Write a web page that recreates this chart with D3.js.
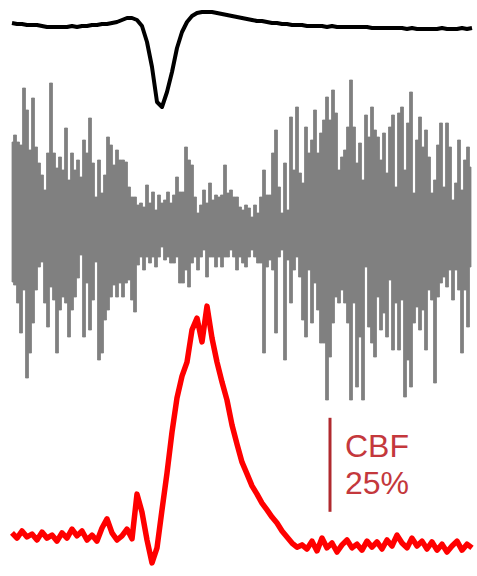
<!DOCTYPE html>
<html>
<head>
<meta charset="utf-8">
<script src="https://cdn.jsdelivr.net/npm/d3@7"></script>
<style>
  body { margin: 0; background: #fff; }
</style>
</head>
<body>
<script>
(function(){
   var width = 477;
   var height = 576;

   // recording length (s)
   var duration = 92;

   // top trace: blood pressure (a.u., relative to baseline), one sample per second
   var bpStep = 1;
   var bp = [
      2,1,1,0,0,0,-1,-2,-2,-2,
      -2,-2,-1,-2,-1,-1,0,0,1,1,
      2,3,5,7,7,5,-1,-17,-42,-77,
      -82,-67,-47,-23,-7,3,9,12,13,13,
      13,12,11,10,9,8,7,6,5,4,
      4,3,2,2,1,1,0,0,0,-1,
      -1,-1,-1,-2,-1,-2,-2,-2,-2,-2,
      -2,-2,-3,-3,-3,-3,-3,-3,-3,-4,
      -3,-4,-4,-4,-4,-4,-3,-4,-4,-4,
      -3,-4,-3
   ];

   // middle trace: EMG, max / min per bin (uV), bin = 0.6 s
   var emgStep = 0.6;
   var emgHi = [
      93,100,93,90,147,125,85,137,88,72,
      60,45,82,152,82,67,78,65,107,55,
      82,65,75,58,95,82,117,72,38,75,
      42,60,98,90,70,85,75,75,73,48,
      38,38,30,32,28,50,32,43,25,40,
      32,35,43,32,40,58,43,43,88,75,
      70,38,22,30,45,32,52,35,40,38,
      40,70,42,45,38,38,28,25,30,27,
      18,30,22,38,65,40,40,82,105,48,
      22,72,25,118,65,128,62,52,108,82,
      95,125,82,102,115,138,115,145,122,65,
      78,85,108,155,108,72,92,55,120,98,
      128,105,98,75,102,62,108,120,48,122,
      128,65,112,143,42,95,118,88,105,78,
      42,55,90,112,48,112,88,35,52,95,
      45,75,88,68
   ];
   var emgLo = [
      -47,-50,-68,-98,-55,-143,-118,-88,-55,-32,
      -27,-68,-92,-52,-65,-118,-75,-62,-68,-102,
      -75,-62,-43,-20,-102,-48,-95,-65,-27,-125,
      -118,-85,-75,-62,-50,-62,-48,-62,-48,-45,
      -65,-77,-30,-22,-35,-22,-28,-22,-32,-22,
      -12,-25,-22,-28,-28,-22,-48,-48,-35,-52,
      -28,-22,-35,-22,-15,-42,-22,-22,-32,-22,
      -32,-22,-22,-15,-22,-35,-22,-28,-32,-22,
      -15,-22,-28,-28,-118,-32,-25,-35,-98,-22,
      -15,-125,-25,-68,-35,-22,-42,-85,-102,-35,
      -88,-48,-75,-108,-108,-165,-122,-88,-62,-68,
      -55,-68,-88,-165,-68,-152,-102,-165,-32,-92,
      -108,-122,-62,-95,-78,-102,-45,-115,-68,-115,
      -65,-162,-125,-152,-88,-72,-95,-75,-115,-55,
      -65,-148,-62,-48,-42,-52,-35,-65,-35,-55,
      -118,-55,-92,-32
   ];

   // bottom trace: CBF change (%), one sample per second
   var cbfStep = 1;
   var cbf = [
      1.9,0.5,2.4,0.8,1.6,0,2.1,0.5,1.3,-0.3,
      1.9,0.5,2.9,1.1,2.4,0,1.3,-0.3,3.2,5.6,
      1.9,0,1.1,2.9,0.3,12.2,7.4,0,-6.1,-2.1,
      8.0,17.8,28.7,37.8,43.6,47.3,55.9,59.0,52.7,62.2,
      53.7,47.3,42.0,37.2,30.6,25.5,20.7,17.6,14.4,12.2,
      9.8,8.0,6.1,4.5,2.4,0.8,-0.8,-1.9,-1.3,-2.4,
      -0.3,-2.9,0.5,-2.1,-0.8,-3.2,-1.3,0,-2.1,-1.1,
      -2.7,-0.3,-1.9,-0.5,-2.4,0,-1.6,1.3,-0.8,-2.1,
      0.5,-1.6,-0.3,-2.4,-0.5,-2.7,-1.1,-3.2,-1.6,-0.3,
      -2.7,-1.1,-2.1
   ];

   // scale bar
   var barTime = 63.6;
   var barFrom = 7.5;
   var barSize = 25;
   var barLabel = ["CBF", "25%"];

   var svg = d3.select("body").append("svg")
      .attr("width", width)
      .attr("height", height)
      .style("display", "block");

   svg.append("rect").attr("width", width).attr("height", height).attr("fill", "#fff");

   var x = d3.scaleLinear().domain([0, duration]).range([12, 472]);
   var yBp = d3.scaleLinear().domain([-100, 20]).range([125, 5]);
   var yEmg = d3.scaleLinear().domain([-200, 200]).range([435, 35]);
   var yCbf = d3.scaleLinear().domain([-10, 70]).range([577.6, 276.8]);

   // EMG: filled step band between bin max and bin min
   let emgArea = d3.area()
      .x((d, i) => x(i * emgStep))
      .y0((d, i) => yEmg(emgLo[i]))
      .y1((d) => yEmg(d))
      .curve(d3.curveStep);
   svg.append("path")
      .attr("d", emgArea(emgHi))
      .attr("fill", "#808080")
      .attr("stroke", "#808080")
      .attr("stroke-width", 0.8);

   let bpLine = d3.line()
      .x((d, i) => x(i * bpStep))
      .y((d) => yBp(d))
      .curve(d3.curveLinear);
   svg.append("path")
      .attr("d", bpLine(bp))
      .attr("fill", "none")
      .attr("stroke", "#000")
      .attr("stroke-width", 4)
      .attr("stroke-linejoin", "round");

   let cbfLine = d3.line()
      .x((d, i) => x(i * cbfStep))
      .y((d) => yCbf(d))
      .curve(d3.curveLinear);
   svg.append("path")
      .attr("d", cbfLine(cbf))
      .attr("fill", "none")
      .attr("stroke", "#ff0000")
      .attr("stroke-width", 5.5)
      .attr("stroke-linejoin", "round");

   svg.append("line")
      .attr("x1", x(barTime)).attr("x2", x(barTime))
      .attr("y1", yCbf(barFrom)).attr("y2", yCbf(barFrom + barSize))
      .attr("stroke", "#b02a2e")
      .attr("stroke-width", 3);

   svg.append("g")
      .selectAll("text")
      .data(barLabel)
      .join("text")
      .attr("x", x(barTime) + 15)
      .attr("y", (d, i) => 457 + i * 37)
      .attr("font-family", "'Liberation Sans', Arial, sans-serif")
      .attr("font-size", 32)
      .attr("fill", "#c4383c")
      .text((d) => d);
})();
</script>
</body>
</html>
